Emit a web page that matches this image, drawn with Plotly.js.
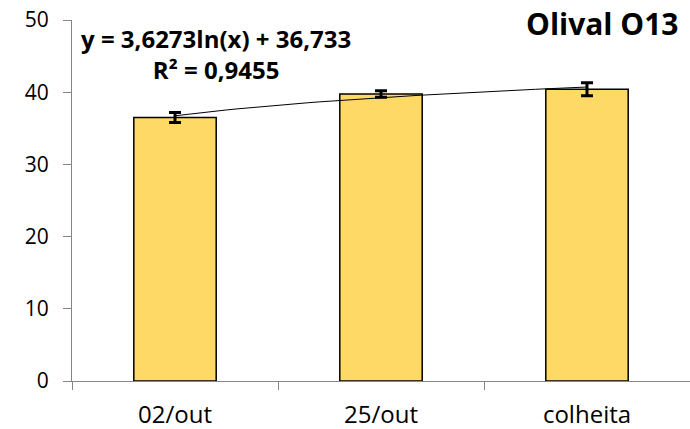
<!DOCTYPE html>
<html>
<head>
<meta charset="utf-8">
<script src="https://cdn.plot.ly/plotly-3.0.1.min.js"></script>
<style>html,body{margin:0;padding:0;background:#fff;}#chart{width:690px;height:429px;}</style>
</head>
<body>
<div id="chart"></div>
<script>
var categories = ["02/out", "25/out", "colheita"];
var values = [36.5, 39.75, 40.4];
var errors = [0.7, 0.45, 0.9];
var trendA = 3.6273;   // y = a ln(x) + b
var trendB = 36.733;
var r2Text = "R² = 0,9455";
var eqText = "y = 3,6273ln(x) + 36,733";
var chartTitle = "Olival O13";
var yTicks = [0, 10, 20, 30, 40, 50];

// trendline curve over category positions 1..3 (Excel x), drawn on numeric overlay axis (0..2)
var tx = [], ty = [];
for (var i = 0; i <= 40; i++) {
  var xx = 1 + 2 * i / 40;
  tx.push(xx - 1);
  ty.push(trendA * Math.log(xx) + trendB);
}

var FONT = "'Open Sans', sans-serif";
var data = [
  {
    type: "bar", x: categories, y: values,
    marker: {color: "#FFD966", line: {color: "#000000", width: 1.5}},
    error_y: {type: "data", array: errors, visible: true, color: "#000000", thickness: 3, width: 6},
    width: 0.4, hoverinfo: "none"
  },
  {
    type: "scatter", mode: "lines", x: tx, y: ty, xaxis: "x2",
    line: {color: "#000000", width: 1}, hoverinfo: "none"
  }
];

var layout = {
  width: 690, height: 429,
  margin: {l: 72, r: 0, t: 20, b: 48},
  paper_bgcolor: "#ffffff", plot_bgcolor: "#ffffff",
  showlegend: false,
  font: {family: FONT, size: 20, color: "#000000"},
  xaxis: {
    type: "category", range: [-0.5, 2.5], tickson: "boundaries",
    ticks: "outside", ticklen: 8, tickcolor: "#868686", tickwidth: 1,
    ticklabelstandoff: 12,
    showline: true, linecolor: "#868686", linewidth: 1,
    showgrid: false, zeroline: false, fixedrange: true,
    tickfont: {family: FONT, size: 24, color: "#000000"}
  },
  xaxis2: {
    overlaying: "x", range: [-0.5, 2.5], visible: false, showgrid: false, zeroline: false
  },
  yaxis: {
    range: [0, 50], tickvals: yTicks,
    ticks: "outside", ticklen: 8, tickcolor: "#868686", tickwidth: 1,
    ticklabelstandoff: 10,
    showline: true, linecolor: "#868686", linewidth: 1,
    showgrid: false, zeroline: false, fixedrange: true,
    tickfont: {family: FONT, size: 21, color: "#000000"}
  },
  annotations: [
    {xref: "paper", yref: "paper", x: 0.8585, y: 0.99, text: "<b>" + chartTitle + "</b>",
     showarrow: false, xanchor: "center", yanchor: "middle", font: {family: FONT, size: 30, color: "#000"}},
    {xref: "paper", yref: "paper", x: 0.233, y: 0.906,
     text: "<b>" + eqText + "</b><br><b>" + r2Text + "</b>", align: "center",
     showarrow: false, xanchor: "center", yanchor: "middle", font: {family: FONT, size: 24, color: "#000"}}
  ]
};

Plotly.newPlot("chart", data, layout, {staticPlot: true, displayModeBar: false});
</script>
</body>
</html>
